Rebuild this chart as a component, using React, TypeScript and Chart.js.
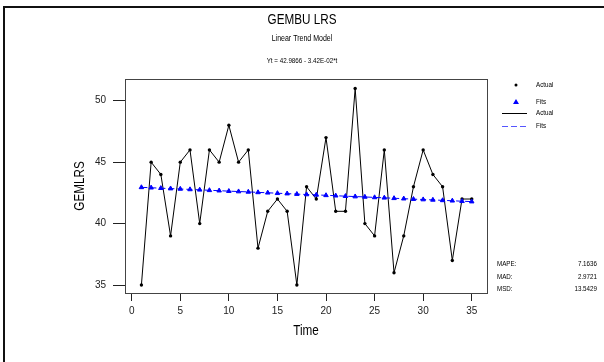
import React, { useEffect, useRef } from "react";
import { Chart, registerables } from "chart.js";

Chart.register(...registerables);

const mainTitle = "GEMBU LRS";
const subTitle = "Linear Trend Model";
const equation = "Yt = 42.9866 - 3.42E-02*t";
const yTitle = "GEMLRS";
const xTitle = "Time";

const times = [1, 2, 3, 4, 5, 6, 7, 8, 9, 10, 11, 12, 13, 14, 15, 16, 17, 18, 19, 20, 21, 22, 23, 24, 25, 26, 27, 28, 29, 30, 31, 32, 33, 34, 35];
const actualValues = [35, 45, 44, 39, 45, 46, 40, 46, 45, 48, 45, 46, 38, 41, 42, 41, 35, 43, 42, 47, 41, 41, 51, 40, 39, 46, 36, 39, 43, 46, 44, 43, 37, 42, 42];
const fitValues = [42.95, 42.92, 42.88, 42.85, 42.82, 42.78, 42.75, 42.71, 42.68, 42.64, 42.61, 42.58, 42.54, 42.51, 42.47, 42.44, 42.40, 42.37, 42.34, 42.30, 42.27, 42.23, 42.20, 42.17, 42.13, 42.10, 42.06, 42.03, 41.99, 41.96, 41.93, 41.89, 41.86, 41.82, 41.79];

const xTicks = [0, 5, 10, 15, 20, 25, 30, 35];
const yTicks = [35, 40, 45, 50];

const legendLabels = ["Actual", "Fits", "Actual", "Fits"];
const statLabels = ["MAPE:", "MAD:", "MSD:"];
const statValues = ["7.1636", "2.9721", "13.5429"];

const FONT = '"Liberation Sans", Arial, sans-serif';
const SQUEEZE = 0.78;

function cText(ctx: CanvasRenderingContext2D, text: string, x: number, y: number, size: number, align: CanvasTextAlign, rot = 0) {
  ctx.save();
  ctx.translate(x, y);
  if (rot) ctx.rotate(rot);
  ctx.scale(SQUEEZE, 1);
  ctx.font = `${size}px ${FONT}`;
  ctx.textAlign = align;
  ctx.textBaseline = "middle";
  ctx.fillText(text, 0, 0);
  ctx.restore();
}

const decorPlugin = {
  id: "decor",
  afterDraw(chart: any) {
    const ctx = chart.ctx as CanvasRenderingContext2D;
    const ca = chart.chartArea;
    ctx.save();
    // outer frame (top and left)
    ctx.strokeStyle = "#111";
    ctx.lineWidth = 2;
    ctx.beginPath();
    ctx.moveTo(4, 362);
    ctx.lineTo(4, 7);
    ctx.lineTo(604, 7);
    ctx.stroke();
    // plot box
    ctx.strokeStyle = "#444";
    ctx.lineWidth = 1;
    ctx.strokeRect(Math.round(ca.left) + 0.5, Math.round(ca.top) + 0.5, Math.round(ca.right - ca.left), Math.round(ca.bottom - ca.top));

    // titles
    ctx.fillStyle = "#000";
    cText(ctx, mainTitle, 302, 20, 15, "center");
    cText(ctx, subTitle, 302, 39, 9, "center");
    cText(ctx, equation, 302, 61, 8, "center");

    // axis titles
    cText(ctx, yTitle, 80, (ca.top + ca.bottom) / 2, 15, "center", -Math.PI / 2);
    cText(ctx, xTitle, (ca.left + ca.right) / 2, 331, 15, "center");

    // legend
    const lx = 536;
    const rows = [85, 102, 113, 126];
    ctx.fillStyle = "#000";
    ctx.beginPath();
    ctx.arc(516, rows[0], 1.5, 0, Math.PI * 2);
    ctx.fill();
    ctx.fillStyle = "#0000ff";
    ctx.beginPath();
    ctx.moveTo(516, rows[1] - 3);
    ctx.lineTo(519, rows[1] + 2);
    ctx.lineTo(513, rows[1] + 2);
    ctx.closePath();
    ctx.fill();
    ctx.strokeStyle = "#000";
    ctx.lineWidth = 1;
    ctx.beginPath();
    ctx.moveTo(502, rows[2] + 0.5);
    ctx.lineTo(527, rows[2] + 0.5);
    ctx.stroke();
    ctx.strokeStyle = "#5555ff";
    ctx.setLineDash([6, 3]);
    ctx.beginPath();
    ctx.moveTo(502, rows[3] + 0.5);
    ctx.lineTo(527, rows[3] + 0.5);
    ctx.stroke();
    ctx.setLineDash([]);
    ctx.fillStyle = "#000";
    legendLabels.forEach((t, i) => cText(ctx, t, lx, rows[i], 8, "left"));

    // stats
    const sRows = [264, 277, 289];
    statLabels.forEach((t, i) => {
      cText(ctx, t, 497, sRows[i], 8, "left");
      cText(ctx, statValues[i], 597, sRows[i], 8, "right");
    });
    ctx.restore();
  },
};

export default function App() {
  const canvasRef = useRef<HTMLCanvasElement | null>(null);

  useEffect(() => {
    document.body.style.margin = "0";
    const canvas = canvasRef.current;
    if (!canvas) return;
    const chart = new Chart(canvas, {
      type: "line",
      data: {
        datasets: [
          {
            label: "Fits",
            data: times.map((t, i) => ({ x: t, y: fitValues[i] })),
            borderColor: "#0000ff",
            borderWidth: 1,
            borderDash: [6, 3],
            pointStyle: "triangle",
            pointRadius: 2.6,
            pointBackgroundColor: "#0000ff",
            pointBorderColor: "#0000ff",
            pointBorderWidth: 1,
            order: 0,
          },
          {
            label: "Actual",
            data: times.map((t, i) => ({ x: t, y: actualValues[i] })),
            borderColor: "#000",
            borderWidth: 1,
            pointStyle: "circle",
            pointRadius: 1.7,
            pointBackgroundColor: "#000",
            pointBorderColor: "#000",
            pointBorderWidth: 0,
            order: 1,
          },
        ],
      },
      options: {
        responsive: false,
        animation: false,
        devicePixelRatio: 1,
        layout: { padding: { left: 0, top: 79, right: 117, bottom: 9 } },
        plugins: { legend: { display: false }, tooltip: { enabled: false }, title: { display: false } },
        scales: {
          x: {
            type: "linear",
            min: -0.69,
            max: 36.57,
            afterBuildTicks: (s: any) => {
              s.ticks = xTicks.map((v) => ({ value: v }));
            },
            afterFit: (s: any) => {
              s.height = 60;
            },
            grid: { drawOnChartArea: false, tickLength: 8, color: "#222", tickWidth: 1 },
            border: { display: true, color: "#444" },
            ticks: { font: { size: 10, family: FONT }, color: "#222", padding: 4, maxRotation: 0, autoSkip: false },
            title: { display: false },
          },
          y: {
            type: "linear",
            min: 34.35,
            max: 51.77,
            afterBuildTicks: (s: any) => {
              s.ticks = yTicks.map((v) => ({ value: v }));
            },
            afterFit: (s: any) => {
              s.width = 125;
            },
            grid: { drawOnChartArea: false, tickLength: 12, color: "#222", tickWidth: 1 },
            border: { display: true, color: "#444" },
            ticks: { font: { size: 10, family: FONT }, color: "#222", padding: 7, autoSkip: false },
            title: { display: false },
          },
        },
      },
      plugins: [decorPlugin],
    });
    return () => chart.destroy();
  }, []);

  return (
    <div style={{ position: "fixed", left: 0, top: 0, width: 604, height: 362, background: "#fff" }}>
      <canvas ref={canvasRef} width={604} height={362} style={{ width: 604, height: 362, display: "block" }} />
    </div>
  );
}
